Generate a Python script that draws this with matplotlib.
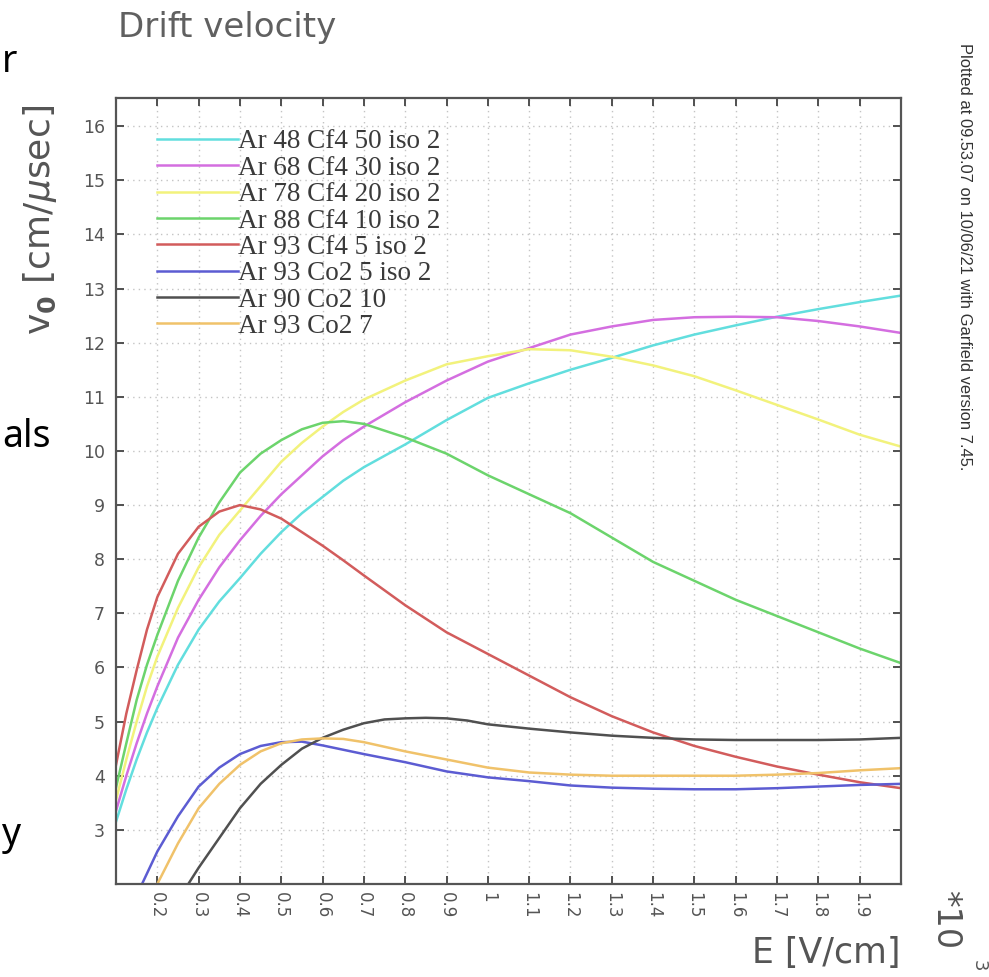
import matplotlib
matplotlib.use('Agg')
import matplotlib.pyplot as plt

# ---------------- data ----------------
labels = ["Ar 48 Cf4 50 iso 2", "Ar 68 Cf4 30 iso 2", "Ar 78 Cf4 20 iso 2",
          "Ar 88 Cf4 10 iso 2", "Ar 93 Cf4 5 iso 2", "Ar 93 Co2 5 iso 2",
          "Ar 90 Co2 10", "Ar 93 Co2 7"]
colors = ["#62dede", "#d46ee0", "#f2f27c", "#6cd46c", "#d25c5c", "#5c5cd2",
          "#505050", "#f0c26a"]

E_cf4 = [0.1, 0.125, 0.15, 0.175, 0.2, 0.25, 0.3, 0.35, 0.4, 0.45, 0.5, 0.55,
         0.6, 0.65, 0.7, 0.8, 0.9, 1.0, 1.1, 1.2, 1.3, 1.4, 1.5, 1.6, 1.7,
         1.8, 1.9, 2.0]
v_ar48 = [3.15, 3.75, 4.3, 4.8, 5.25, 6.05, 6.7, 7.22, 7.65, 8.1, 8.5, 8.85,
          9.15, 9.45, 9.7, 10.12, 10.57, 10.98, 11.25, 11.5, 11.72, 11.95,
          12.15, 12.32, 12.48, 12.62, 12.75, 12.87]
v_ar68 = [3.35, 4.0, 4.6, 5.15, 5.65, 6.55, 7.25, 7.85, 8.35, 8.8, 9.2, 9.55,
          9.9, 10.2, 10.45, 10.9, 11.3, 11.65, 11.9, 12.15, 12.3, 12.42,
          12.47, 12.48, 12.47, 12.4, 12.3, 12.18]
v_ar78 = [3.55, 4.3, 5.0, 5.65, 6.2, 7.1, 7.85, 8.45, 8.9, 9.35, 9.8, 10.15,
          10.45, 10.72, 10.95, 11.3, 11.6, 11.75, 11.88, 11.86, 11.74, 11.58,
          11.38, 11.12, 10.85, 10.58, 10.3, 10.08]
v_ar88 = [3.78, 4.6, 5.4, 6.05, 6.6, 7.6, 8.4, 9.05, 9.6, 9.95, 10.2, 10.4,
          10.52, 10.55, 10.5, 10.25, 9.95, 9.55, 9.2, 8.85, 8.4, 7.95, 7.6,
          7.25, 6.95, 6.65, 6.35, 6.08]
v_ar93 = [4.2, 5.15, 5.95, 6.7, 7.3, 8.1, 8.6, 8.88, 9.0, 8.92, 8.75, 8.5,
          8.25, 7.98, 7.7, 7.15, 6.65, 6.25, 5.85, 5.45, 5.1, 4.8, 4.55, 4.35,
          4.17, 4.02, 3.88, 3.77]

E_co2_5 = [0.163, 0.2, 0.25, 0.3, 0.35, 0.4, 0.45, 0.5, 0.55, 0.6, 0.7, 0.8,
           0.9, 1.0, 1.1, 1.2, 1.3, 1.4, 1.5, 1.6, 1.7, 1.8, 1.9, 2.0]
v_co2_5 = [2.0, 2.6, 3.25, 3.8, 4.15, 4.4, 4.55, 4.62, 4.63, 4.56, 4.4, 4.25,
           4.08, 3.97, 3.9, 3.82, 3.78, 3.76, 3.75, 3.75, 3.77, 3.8, 3.83, 3.85]

E_co2_10 = [0.275, 0.3, 0.35, 0.4, 0.45, 0.5, 0.55, 0.6, 0.65, 0.7, 0.75, 0.8,
            0.85, 0.9, 0.95, 1.0, 1.1, 1.2, 1.3, 1.4, 1.5, 1.6, 1.7, 1.8, 1.9,
            2.0]
v_co2_10 = [2.0, 2.3, 2.85, 3.4, 3.85, 4.2, 4.5, 4.7, 4.85, 4.97, 5.04, 5.06,
            5.07, 5.06, 5.02, 4.95, 4.87, 4.8, 4.74, 4.7, 4.67, 4.66, 4.66,
            4.66, 4.67, 4.7]

E_co2_7 = [0.2, 0.25, 0.3, 0.35, 0.4, 0.45, 0.5, 0.55, 0.6, 0.65, 0.7, 0.8,
           0.9, 1.0, 1.1, 1.2, 1.3, 1.4, 1.5, 1.6, 1.7, 1.8, 1.9, 2.0]
v_co2_7 = [2.0, 2.75, 3.4, 3.85, 4.2, 4.45, 4.6, 4.67, 4.69, 4.68, 4.62, 4.45,
           4.3, 4.15, 4.06, 4.02, 4.0, 4.0, 4.0, 4.0, 4.02, 4.05, 4.1, 4.14]

series = [(E_cf4, v_ar48), (E_cf4, v_ar68), (E_cf4, v_ar78), (E_cf4, v_ar88),
          (E_cf4, v_ar93), (E_co2_5, v_co2_5), (E_co2_10, v_co2_10),
          (E_co2_7, v_co2_7)]

xticks = [0.2, 0.3, 0.4, 0.5, 0.6, 0.7, 0.8, 0.9, 1.0, 1.1, 1.2, 1.3, 1.4,
          1.5, 1.6, 1.7, 1.8, 1.9]
xticklabels = ["0.2", "0.3", "0.4", "0.5", "0.6", "0.7", "0.8", "0.9", "1",
               "1.1", "1.2", "1.3", "1.4", "1.5", "1.6", "1.7", "1.8", "1.9"]
yticks = list(range(3, 17))

# ---------------- figure ----------------
W, H = 989, 977
fig = plt.figure(figsize=(W / 100, H / 100), dpi=100)
fig.patch.set_facecolor('white')
ax = fig.add_axes([116 / W, 1 - 884 / H, 785 / W, 786 / H])

for (E, v), c, lab in zip(series, colors, labels):
    ax.plot(E, v, color=c, lw=1.8, label=lab, solid_joinstyle='round')

ax.set_xlim(0.1, 2.0)
ax.set_ylim(2.0, 16.52)
ax.set_xticks(xticks)
ax.set_xticklabels(xticklabels, rotation=-90, fontsize=12, color='#555555')
ax.set_yticks(yticks)
ax.set_yticklabels([str(t) for t in yticks], fontsize=12.5, color='#555555')
ax.tick_params(direction='in', length=5.5, width=1.4, color='#505050',
               top=True, right=True, pad=6)
ax.tick_params(axis='y', pad=8)
for sp in ax.spines.values():
    sp.set_color('#555555')
    sp.set_linewidth(1.6)
ax.grid(True, color='#c4c4c4', linestyle=(0, (1, 3)), linewidth=1.0)

leg = ax.legend(loc='upper left', bbox_to_anchor=(0.052, 0.960),
                frameon=False, handlelength=3.0, handletextpad=0.0,
                labelspacing=0.05, borderpad=0, borderaxespad=0,
                prop={'family': 'Liberation Serif', 'size': 19.5})
for t in leg.get_texts():
    t.set_color('#3a3a3a')

# ---------------- texts ----------------
fig.text(118 / W, 1 - 37 / H, "Drift velocity", fontsize=24.5, color='#606060',
         va='baseline', ha='left')
fig.text(40 / W, 1 - 220 / H, r"v$_{\mathbf{0}}$ [cm/$\mu$sec]", fontsize=26,
         color='#555555', rotation=90, ha='center', va='center')
fig.text(900 / W, 1 - 953 / H, "E [V/cm]", fontsize=25, color='#555555',
         ha='right', va='center')
fig.text(946 / W, 1 - 920 / H, "*10", fontsize=24, color='#555555',
         rotation=-90, ha='center', va='center')
fig.text(979 / W, 1 - 966 / H, "3", fontsize=13, color='#555555',
         rotation=-90, ha='center', va='center')
fig.text(965 / W, 1 - 257 / H,
         "Plotted at 09.53.07 on 10/06/21 with Garfield version 7.45.",
         fontsize=11.9, family='Liberation Sans', color='#333333',
         rotation=-90, ha='center', va='center')

# stray fragments of the surrounding slide
for s, yb in [("r", 72), ("als", 447), ("y", 845)]:
    fig.text(2 / W, 1 - yb / H, s, fontsize=27, family='Noto Sans',
             color='black', ha='left', va='baseline')

fig.savefig('out.png', dpi=100)
